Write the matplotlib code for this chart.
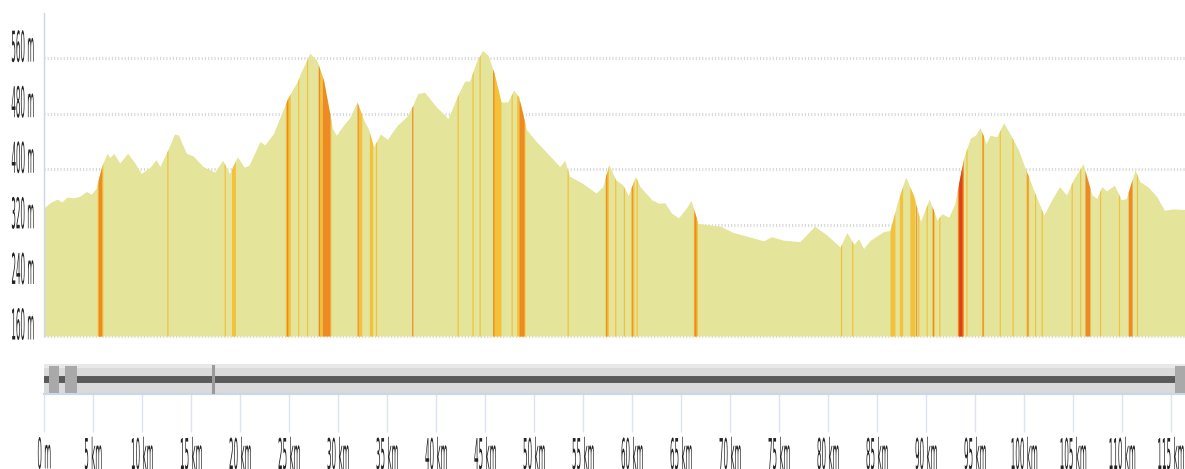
import matplotlib
matplotlib.use("Agg")
import matplotlib.pyplot as plt
import numpy as np
from matplotlib.patheffects import AbstractPathEffect
from matplotlib.transforms import Affine2D, ScaledTranslation
from matplotlib.patches import Rectangle

# elevation profile (km, m)
dist_km = [
    0.0, 0.6, 1.3, 1.8, 2.3, 3.0, 3.6, 4.3, 4.8, 5.3, 5.6, 5.9, 6.4, 6.7, 7.1, 7.7,
    8.5, 9.2, 9.9, 10.8, 11.4, 11.8, 12.6, 13.3, 13.7, 14.5, 15.2, 16.2, 17.4, 18.2,
    18.9, 19.7, 20.4, 20.9, 22.0, 22.5, 23.4, 24.2, 24.9, 25.8, 26.2, 27.1, 27.8,
    28.5, 29.0, 29.4, 29.8, 30.5, 31.2, 31.9, 32.6, 33.1, 33.6, 34.3, 35.0, 36.0,
    37.0, 37.6, 38.1, 38.8, 40.0, 41.2, 42.2, 42.9, 43.4, 44.1, 44.7, 45.3, 45.9,
    46.6, 47.3, 47.9, 48.4, 49.2, 50.2, 51.6, 52.6, 53.1, 53.6, 54.9, 56.3, 57.0,
    57.6, 58.3, 58.7, 59.0, 59.6, 60.3, 60.8, 62.0, 62.7, 63.3, 64.0, 64.7, 65.4,
    66.0, 66.7, 69.0, 70.3, 72.4, 73.4, 74.2, 75.4, 77.1, 78.6, 79.8, 81.2, 81.9,
    82.6, 83.1, 83.6, 84.3, 85.6, 86.3, 87.0, 87.9, 88.7, 89.4, 90.3, 91.1, 91.6,
    92.3, 92.9, 93.8, 94.5, 95.0, 95.5, 96.1, 96.5, 97.2, 97.9, 98.7, 99.4, 100.3,
    101.1, 102.0, 102.8, 103.6, 104.3, 105.0, 106.0, 106.9, 107.4, 107.9, 108.4,
    109.2, 109.9, 110.4, 111.3, 111.8, 112.6, 113.5, 114.3, 115.2, 116.4,
]
elev_m = [
    345, 352, 357, 353, 360, 359, 361, 368, 364, 373, 390, 406, 423, 417, 423, 409,
    423, 410, 394, 403, 414, 404, 428, 451, 449, 423, 419, 404, 396, 413,
    394, 418, 403, 406, 440, 435, 452, 480, 504, 526, 540, 567, 557,
    528, 490, 459, 449, 463, 475, 497, 471, 457, 432, 451, 443, 463,
    476, 492, 509, 511, 490, 473, 507, 527, 527, 555, 571, 564, 538,
    497, 497, 514, 504, 457, 440, 419, 404, 413, 390, 380, 366, 375,
    407, 385, 381, 378, 362, 390, 375, 356, 351, 352, 337, 330, 342,
    355, 322, 318, 309, 301, 297, 303, 298, 296, 318, 306, 288, 309,
    292, 300, 286, 298, 310, 312, 350, 389, 362, 325, 357, 327, 336,
    331, 350, 416, 445, 449, 460, 437, 449, 447, 467, 447, 428, 394,
    365, 334, 356, 375, 363, 385, 408, 363, 358, 375, 369,
    377, 356, 358, 399, 382, 375, 361, 341, 343, 342,
]

# steep sections: 1 = moderate, 2 = steep, 3 = very steep
stripe_start = [
    5.40, 5.50, 12.50, 18.35, 19.10, 24.60, 24.70, 25.85, 26.75, 27.95, 28.10, 28.37,
    29.15, 31.92, 32.04, 33.17, 33.79, 37.49, 42.12, 43.64, 44.36, 45.75, 45.75,
    47.63, 48.20, 48.45, 53.35, 57.22, 57.28, 58.20, 59.09, 59.87, 59.90, 60.39,
    66.23, 66.30, 81.24, 82.39, 86.30, 87.25, 88.33, 88.92, 89.12, 89.98, 90.55,
    90.63, 91.27, 93.17, 93.30, 94.04, 95.65, 95.70, 97.44, 98.75, 100.17, 100.27,
    101.04, 101.72, 104.78, 105.64, 106.19, 107.67, 109.60, 110.60, 111.44,
]
stripe_end = [
    5.98, 5.85, 12.62, 18.47, 19.50, 25.10, 24.85, 25.97, 26.87, 28.10, 28.37, 29.15,
    29.25, 32.04, 32.39, 33.51, 33.91, 37.61, 42.24, 43.76, 44.48, 46.60, 45.88,
    47.75, 49.05, 48.95, 53.47, 57.56, 57.40, 58.32, 59.21, 60.17, 60.00, 60.51,
    66.64, 66.50, 81.36, 82.51, 86.80, 87.59, 88.85, 89.02, 89.24, 90.10, 90.82,
    90.73, 91.39, 93.78, 93.65, 94.16, 95.85, 95.80, 97.56, 98.87, 100.44, 100.37,
    101.16, 101.84, 104.90, 105.76, 106.70, 107.79, 109.72, 111.00, 111.56,
]
stripe_level = [
    1, 2, 1, 1, 1, 1, 2, 1, 1, 2, 1, 2,
    1, 2, 1, 1, 1, 2, 1, 1, 1, 1, 2,
    1, 1, 2, 1, 1, 2, 1, 1, 1, 2, 1,
    1, 2, 1, 1, 1, 1, 1, 2, 1, 1, 1,
    2, 1, 2, 3, 1, 1, 2, 1, 1, 1, 2,
    1, 1, 1, 1, 2, 1, 1, 2, 1,
]

y_ticks = [160, 240, 320, 400, 480, 560]
x_ticks = list(range(0, 116, 5))
x_labels = ["0 m"] + [f"{k} km" for k in x_ticks[1:]]

# navigator decorations (km)
nav_handles = [(0.48, 1.50), (2.10, 3.34), (115.4, 116.4)]
nav_marker = 17.2

X_MAX = 116.4
Y_MIN, Y_MAX = 160, 625
FILL = "#e4e49a"
LEVEL_COLOR = {1: "#f3c13a", 2: "#ee8a24", 3: "#e2401c"}
AXIS_BLUE = "#ccd6eb"
LABEL_SIZE = 6
SX, SY = 0.86, 5.1   # tall, narrow glyphs as in the original


class Stretch(AbstractPathEffect):
    """Scale the glyph outlines about an anchor.

    xanchor: "center", "right", or "right_to_center" (text laid out with
    ha="right", glyphs re-centred on that right edge after squeezing).
    yanchor: "baseline" or "top".
    """

    def __init__(self, sx, sy, xanchor="center", yanchor="baseline"):
        super().__init__()
        self.sx, self.sy = sx, sy
        self.xanchor, self.yanchor = xanchor, yanchor

    def draw_path(self, renderer, gc, tpath, affine, rgbFace=None):
        v = tpath.vertices
        if len(v) == 0:
            return
        x0, x1 = v[:, 0].min(), v[:, 0].max()
        if self.xanchor == "right":
            cx = tx = x1
        elif self.xanchor == "right_to_center":
            cx, tx = x1, x1 + (x1 - x0) * self.sx / 2
        else:
            cx = tx = (x0 + x1) / 2
        cy = v[:, 1].max() if self.yanchor == "top" else 0.0
        t = Affine2D().translate(-cx, -cy).scale(self.sx, self.sy).translate(tx, cy) + affine
        renderer.draw_path(gc, tpath, t, rgbFace)


W, H = 1185, 469
fig = plt.figure(figsize=(W / 100, H / 100), dpi=100)

left = 44.3 / W
width = 1 - left
ax = fig.add_axes([left, 1 - 336 / H, width, (336 - 13) / H])
nav = fig.add_axes([left, 1 - 394 / H, width, 30 / H])

dist = np.array(dist_km)
elev = np.array(elev_m)

# dotted grid behind the profile
for yv in y_ticks:
    ax.axhline(yv, color="#d6d6d6", lw=2.2, ls=(0, (0.35, 0.7)), zorder=0, clip_on=False)

ax.fill_between(dist, Y_MIN, elev, color=FILL, lw=0, zorder=1)

for lvl in (1, 2, 3):
    for s, e, l in zip(stripe_start, stripe_end, stripe_level):
        if l != lvl:
            continue
        inner = dist[(dist > s) & (dist < e)]
        xs = np.concatenate([[s], inner, [e]])
        ys = np.interp(xs, dist, elev)
        ax.fill_between(xs, Y_MIN, ys, color=LEVEL_COLOR[l], lw=0, zorder=2 + lvl)

ax.set_xlim(0, X_MAX)
ax.set_ylim(Y_MIN, Y_MAX)
ax.set_xticks([])
ax.set_yticks([])
for side in ("top", "right", "bottom"):
    ax.spines[side].set_visible(False)
ax.spines["left"].set_color(AXIS_BLUE)
ax.spines["left"].set_linewidth(1.0)

label_tf = ax.get_yaxis_transform() + ScaledTranslation(-10 / 100, -3.5 / 100, fig.dpi_scale_trans)
for yv in y_ticks:
    ax.text(0, yv, f"{yv} m", transform=label_tf, ha="right", va="baseline",
            fontsize=LABEL_SIZE, color="#222222",
            path_effects=[Stretch(SX, SY, "right", "baseline")])

# navigator strip
nav.set_xlim(0, X_MAX)
nav.set_ylim(0, 1)
nav.set_facecolor("#dadada")
nav.axhspan(0.86, 1.0, color="#e8e8e8", lw=0)
nav.axhline(0.5, color="#5a5a5a", lw=5.0)
for a, b in nav_handles:
    nav.add_patch(Rectangle((a, 0.03), b - a, 0.9, color="#a9a9a9", lw=0, zorder=3))
nav.axvline(nav_marker, ymin=0.03, ymax=0.93, color="#9a9a9a", lw=2.2, zorder=3)
nav.set_yticks([])
for side in ("top", "right", "left"):
    nav.spines[side].set_visible(False)
nav.spines["bottom"].set_color(AXIS_BLUE)
nav.spines["bottom"].set_linewidth(1.5)

nav.set_xticks(x_ticks, x_labels)
nav.tick_params(axis="x", length=27.4, width=1.0, color="#dde3f0", pad=2.9,
                labelsize=LABEL_SIZE, labelcolor="#222222")
tick_labels = nav.get_xticklabels()
for lbl in tick_labels[:-1]:
    lbl.set_path_effects([Stretch(SX, SY, "center", "top")])
# last label sits at the right edge: lay it out right-aligned, draw it centred on its tick
tick_labels[-1].set_ha("right")
tick_labels[-1].set_path_effects([Stretch(SX, SY, "right_to_center", "top")])

fig.savefig("out.png", dpi=100)
